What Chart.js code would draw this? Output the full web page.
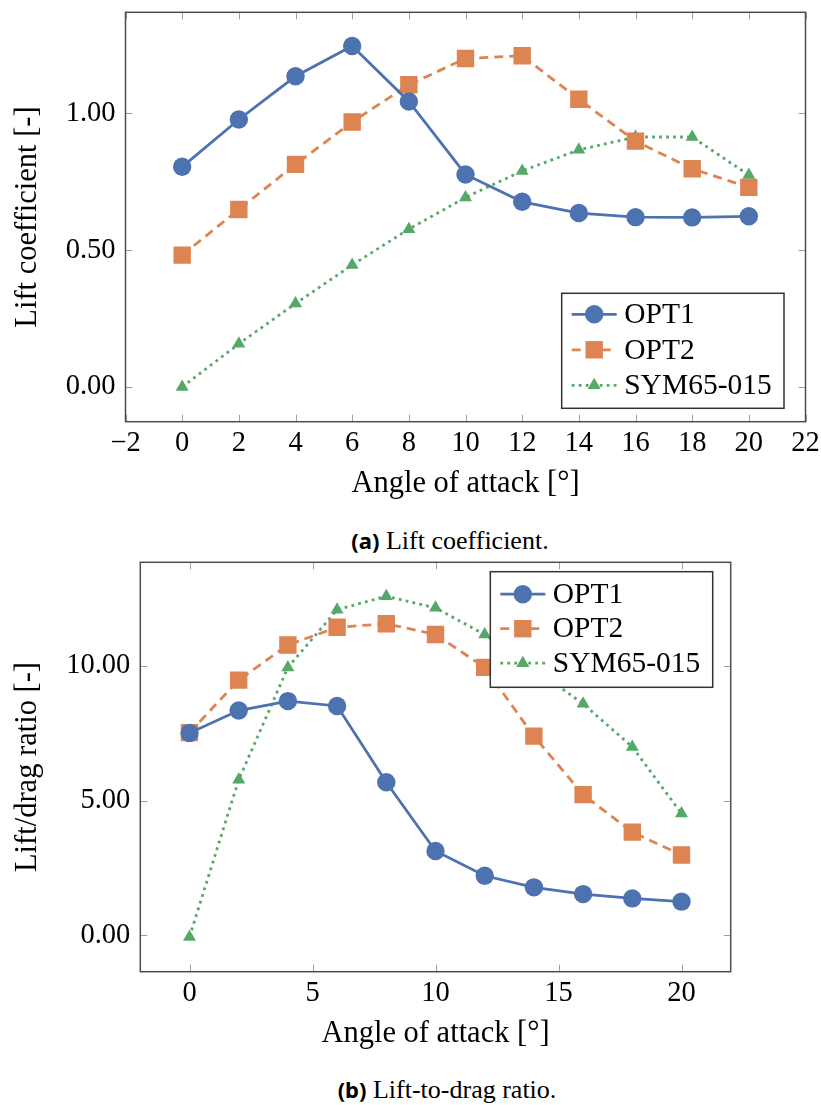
<!DOCTYPE html>
<html>
<head>
<meta charset="utf-8">
<script src="https://cdn.jsdelivr.net/npm/chart.js@4.4.1/dist/chart.umd.min.js"></script>
<style>
  body { margin: 0; background: #fff; }
  #page { position: relative; width: 821px; height: 1105px; }
  canvas { position: absolute; left: 0; }
  .cap { position: absolute; left: 0; height: 30px; line-height: 30px; text-align: center;
         font-family: 'Liberation Serif', 'DejaVu Serif', serif; font-size: 26px; color: #000; white-space: nowrap; }
  .cap b { font-family: 'Noto Sans', 'Open Sans', sans-serif; font-size: 22px; font-weight: 700; }
</style>
</head>
<body>
<div id="page">
  <canvas id="liftChart" width="821" height="520" style="top:0"></canvas>
  <div class="cap" style="top:525px; width:900px"><b>(a)</b> Lift coefficient.</div>
  <canvas id="ldChart" width="821" height="520" style="top:550px"></canvas>
  <div class="cap" style="top:1074px; width:894px"><b>(b)</b> Lift-to-drag ratio.</div>
</div>
<script>
// data
const angles = [0, 2, 4, 6, 8, 10, 12, 14, 16, 18, 20];
const seriesNames = ['OPT1', 'OPT2', 'SYM65-015'];

const liftOpt1 = [0.805, 0.978, 1.136, 1.247, 1.044, 0.777, 0.677, 0.636, 0.621, 0.620, 0.624];
const liftOpt2 = [0.482, 0.649, 0.814, 0.969, 1.105, 1.201, 1.211, 1.052, 0.899, 0.798, 0.730];
const liftSym = [0.000, 0.158, 0.305, 0.446, 0.577, 0.693, 0.790, 0.867, 0.914, 0.914, 0.775];

const ldOpt1 = [7.51, 8.34, 8.69, 8.51, 5.68, 3.13, 2.21, 1.78, 1.53, 1.37, 1.25];
const ldOpt2 = [7.52, 9.47, 10.77, 11.43, 11.56, 11.16, 9.94, 7.39, 5.22, 3.83, 2.98];
const ldSym = [-0.06, 5.77, 9.94, 12.08, 12.58, 12.15, 11.16, 9.90, 8.59, 6.99, 4.52];

const liftTicksX = [-2, 0, 2, 4, 6, 8, 10, 12, 14, 16, 18, 20, 22];
const liftTicksY = [0, 0.5, 1];
const ldTicksX = [0, 5, 10, 15, 20];
const ldTicksY = [0, 5, 10];

const serif = "'Liberation Serif', 'DejaVu Serif', serif";
const colors = ['#4C72B0', '#DD8452', '#55A868'];

function makeDatasets(values) {
  const styles = [
    { borderDash: [], pointStyle: 'circle', pointRadius: 9.2 },
    { borderDash: [9, 6], pointStyle: 'rect', pointRadius: 12.3 },
    { borderDash: [2.8, 4.2], pointStyle: 'triangle', pointRadius: 7.5 }
  ];
  return values.map((vals, i) => ({
    label: seriesNames[i],
    data: angles.map((a, j) => ({ x: a, y: vals[j] })),
    borderColor: colors[i],
    backgroundColor: colors[i],
    pointBackgroundColor: colors[i],
    pointBorderWidth: 0,
    borderWidth: 2.8,
    tension: 0,
    borderDash: styles[i].borderDash,
    pointStyle: styles[i].pointStyle,
    pointRadius: styles[i].pointRadius,
    pointHoverRadius: styles[i].pointRadius
  }));
}

function drawMarker(ctx, style, r, x, y) {
  ctx.beginPath();
  if (style === 'circle') {
    ctx.arc(x, y, r, 0, Math.PI * 2);
  } else if (style === 'rect') {
    const s = r * Math.SQRT1_2;
    ctx.rect(x - s, y - s, 2 * s, 2 * s);
  } else {
    let rad = 0;
    ctx.moveTo(x + Math.sin(rad) * r, y - Math.cos(rad) * r);
    rad += Math.PI * 2 / 3;
    ctx.lineTo(x + Math.sin(rad) * r, y - Math.cos(rad) * r);
    rad += Math.PI * 2 / 3;
    ctx.lineTo(x + Math.sin(rad) * r, y - Math.cos(rad) * r);
    ctx.closePath();
  }
  ctx.fill();
}

// frame + inward ticks like pgfplots, and the boxed legend
const pgfFrame = {
  id: 'pgfFrame',
  beforeDatasetsDraw(chart) {
    const { ctx, chartArea: a, scales } = chart;
    ctx.save();
    ctx.strokeStyle = '#a0a0a0';
    ctx.lineWidth = 1;
    ctx.beginPath();
    scales.x.ticks.forEach(t => {
      const px = Math.round(scales.x.getPixelForValue(t.value)) + 0.5;
      ctx.moveTo(px, a.bottom); ctx.lineTo(px, a.bottom - 7);
      ctx.moveTo(px, a.top); ctx.lineTo(px, a.top + 7);
    });
    scales.y.ticks.forEach(t => {
      const py = Math.round(scales.y.getPixelForValue(t.value)) + 0.5;
      ctx.moveTo(a.left, py); ctx.lineTo(a.left + 7, py);
      ctx.moveTo(a.right, py); ctx.lineTo(a.right - 7, py);
    });
    ctx.stroke();
    ctx.strokeStyle = '#4d4d4d';
    ctx.lineWidth = 1.5;
    ctx.strokeRect(a.left, a.top, a.right - a.left, a.bottom - a.top);
    ctx.restore();
  },
  afterDraw(chart, args, opts) {
    const { ctx } = chart;
    const b = opts.box;
    ctx.save();
    ctx.fillStyle = '#fff';
    ctx.fillRect(b.x, b.y, b.w, b.h);
    ctx.strokeStyle = '#333';
    ctx.lineWidth = 1.5;
    ctx.strokeRect(b.x, b.y, b.w, b.h);
    chart.data.datasets.forEach((ds, i) => {
      const y = b.y + b.first + i * b.step;
      ctx.strokeStyle = ds.borderColor;
      ctx.lineWidth = ds.borderWidth;
      ctx.setLineDash(ds.borderDash);
      ctx.beginPath();
      ctx.moveTo(b.x + 10, y);
      ctx.lineTo(b.x + 55, y);
      ctx.stroke();
      ctx.setLineDash([]);
      ctx.fillStyle = ds.pointBackgroundColor;
      drawMarker(ctx, ds.pointStyle, ds.pointRadius, b.x + 32.5, y);
      ctx.fillStyle = '#000';
      ctx.font = '29.5px ' + serif;
      ctx.textBaseline = 'middle';
      ctx.fillText(ds.label, b.x + 62.5, y + 1);
    });
    ctx.restore();
  }
};

function makeChart(id, values, cfg) {
  return new Chart(document.getElementById(id), {
    type: 'line',
    data: { datasets: makeDatasets(values) },
    plugins: [pgfFrame],
    options: {
      responsive: false,
      animation: false,
      layout: { padding: { top: 9, right: cfg.padRight, left: 0, bottom: 0 } },
      plugins: {
        legend: { display: false },
        tooltip: { enabled: false },
        pgfFrame: { box: cfg.legendBox }
      },
      scales: {
        x: {
          type: 'linear',
          min: -2,
          max: 22,
          afterBuildTicks: s => { s.ticks = cfg.ticksX.map(v => ({ value: v })); },
          afterFit: s => { s.height = 98.3; s.paddingLeft = 0; s.paddingRight = 0; },
          grid: { display: false, drawTicks: false },
          border: { display: false },
          ticks: {
            color: '#000',
            padding: 5,
            maxRotation: 0,
            autoSkip: false,
            font: { family: serif, size: 28.5 },
            callback: v => String(v).replace('-', '\u2212')
          },
          title: {
            display: true,
            text: 'Angle of attack [°]',
            color: '#000',
            font: { family: serif, size: 30.5 },
            padding: { top: 0, bottom: 17.7 }
          }
        },
        y: {
          min: cfg.yMin,
          max: cfg.yMax,
          afterBuildTicks: s => { s.ticks = cfg.ticksY.map(v => ({ value: v })); },
          afterFit: s => { s.width = cfg.yWidth; s.paddingTop = 0; s.paddingBottom = 0; },
          grid: { display: false, drawTicks: false },
          border: { display: false },
          ticks: {
            color: '#000',
            padding: 10,
            autoSkip: false,
            font: { family: serif, size: 28.5 },
            callback: v => v.toFixed(2)
          },
          title: {
            display: true,
            text: cfg.yTitle,
            color: '#000',
            font: { family: serif, size: 30.5 },
            padding: { top: 9.7, bottom: 0 }
          }
        }
      }
    }
  });
}

makeChart('liftChart', [liftOpt1, liftOpt2, liftSym], {
  padRight: 15.5,
  yWidth: 125.5,
  yMin: -0.127,
  yMax: 1.370,
  ticksX: liftTicksX,
  ticksY: liftTicksY,
  yTitle: 'Lift coefficient [-]',
  legendBox: { x: 561.7, y: 293.3, w: 222.3, h: 115, first: 21, step: 35.5 }
});

makeChart('ldChart', [ldOpt1, ldOpt2, ldSym], {
  padRight: 90.3,
  yWidth: 140.3,
  yMin: -1.35,
  yMax: 13.84,
  ticksX: ldTicksX,
  ticksY: ldTicksY,
  yTitle: 'Lift/drag ratio [-]',
  legendBox: { x: 490.3, y: 21.7, w: 222.4, h: 115.6, first: 22.5, step: 34.5 }
});
</script>
</body>
</html>
